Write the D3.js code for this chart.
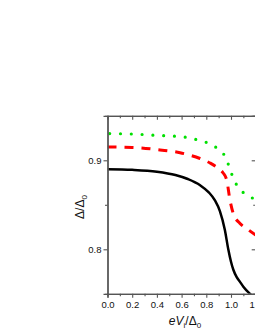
<!DOCTYPE html>
<html>
<head>
<meta charset="utf-8">
<script src="https://cdn.jsdelivr.net/npm/d3@7"></script>
<style>
  body { margin: 0; background: #fff; }
  text { font-family: "Liberation Sans", Arial, sans-serif; }
</style>
</head>
<body>
<svg id="chart" width="255" height="330"></svg>
<script>
// values: x = eV/Δ0, y = Δ/Δ0
var blackX = [0, 0.2, 0.4, 0.55, 0.65, 0.75, 0.82, 0.87, 0.91, 0.95, 0.978, 1.0, 1.019, 1.045, 1.07, 1.10, 1.154, 1.2]
var blackY = [0.890, 0.8893, 0.8872, 0.8835, 0.879, 0.872, 0.864, 0.855, 0.843, 0.822, 0.800, 0.786, 0.777, 0.769, 0.764, 0.758, 0.750, 0.745]

var redX = [0, 0.2, 0.425, 0.587, 0.749, 0.83, 0.897, 0.935, 0.965, 0.992, 1.019, 1.073, 1.13, 1.2]
var redY = [0.915, 0.9145, 0.9116, 0.9085, 0.902, 0.897, 0.891, 0.886, 0.878, 0.855, 0.840, 0.829, 0.823, 0.816]

var greenX = [0, 0.2, 0.4, 0.628, 0.709, 0.803, 0.889, 0.93, 0.96, 0.992, 1.024, 1.079, 1.168, 1.2]
var greenY = [0.930, 0.9295, 0.928, 0.926, 0.9236, 0.920, 0.9135, 0.909, 0.902, 0.890, 0.878, 0.8666, 0.858, 0.856]

var xMajor = [0, 0.2, 0.4, 0.6, 0.8, 1.0, 1.2]
var xMinor = [0.1, 0.3, 0.5, 0.7, 0.9, 1.1]
var yMajor = [0.8, 0.9]
var yMinor = [0.85]

var svg = d3.select('#chart')

var x = d3.scaleLinear().domain([0, 1.2]).range([107.5, 255.7])
var y = d3.scaleLinear().domain([0.75, 0.95]).range([293.8, 115.8])

var axisColor = '#555'

svg.append('clipPath').attr('id', 'clip')
  .append('rect')
    .attr('x', x(0)).attr('y', y(0.95))
    .attr('width', x(1.2) - x(0)).attr('height', y(0.75) - y(0.95))

function pts(xs, ys) {
  return xs.map(function (d, i) { return [d, ys[i]] })
}

var line = d3.line()
    .x(function (d) { return x(d[0]) })
    .y(function (d) { return y(d[1]) })
    .curve(d3.curveMonotoneX)

var curves = svg.append('g').attr('clip-path', 'url(#clip)')

curves.append('path')
    .attr('d', line(pts(greenX, greenY)))
    .attr('fill', 'none')
    .attr('stroke', '#00e000')
    .attr('stroke-width', 3.2)
    .attr('stroke-linecap', 'round')
    .attr('stroke-dasharray', '0,10.8')
    .attr('stroke-dashoffset', 8.6)

curves.append('path')
    .attr('d', line(pts(redX, redY)))
    .attr('fill', 'none')
    .attr('stroke', '#ff0000')
    .attr('stroke-width', 3)
    .attr('stroke-dasharray', '9,8')

curves.append('path')
    .attr('d', line(pts(blackX, blackY)))
    .attr('fill', 'none')
    .attr('stroke', '#000')
    .attr('stroke-width', 2.5)

// bottom axis: ticks outward
var gb = svg.append('g').attr('transform', 'translate(0,' + y(0.75) + ')')
  .call(d3.axisBottom(x).tickValues(xMajor).tickSize(4).tickFormat(d3.format('.1f')).tickPadding(3))
gb.selectAll('.tick').filter(function (d) { return d > 1.15 }).select('line').remove()
svg.append('g').attr('transform', 'translate(0,' + y(0.75) + ')')
  .call(d3.axisBottom(x).tickValues(xMinor).tickSize(2.5).tickFormat(''))

// left axis: ticks outward
svg.append('g').attr('transform', 'translate(' + x(0) + ',0)')
  .call(d3.axisLeft(y).tickValues(yMajor).tickSize(4).tickFormat(d3.format('.1f')).tickPadding(2))
svg.append('g').attr('transform', 'translate(' + x(0) + ',0)')
  .call(d3.axisLeft(y).tickValues(yMinor).tickSize(2.5).tickFormat(''))

// top axis: ticks inward
svg.append('g').attr('transform', 'translate(0,' + y(0.95) + ')')
  .call(d3.axisTop(x).tickValues(xMajor.filter(function (d) { return d > 0.01 && d < 1.15 })).tickSize(-4).tickFormat(''))
svg.append('g').attr('transform', 'translate(0,' + y(0.95) + ')')
  .call(d3.axisTop(x).tickValues(xMinor).tickSize(-2.5).tickFormat(''))

// right axis: ticks inward
svg.append('g').attr('transform', 'translate(' + x(1.2) + ',0)')
  .call(d3.axisRight(y).tickValues(yMajor).tickSize(-4).tickFormat(''))
svg.append('g').attr('transform', 'translate(' + x(1.2) + ',0)')
  .call(d3.axisRight(y).tickValues(yMinor).tickSize(-2.5).tickFormat(''))

svg.selectAll('.domain').attr('stroke', axisColor).attr('stroke-width', 1.3)
svg.selectAll('.tick line').attr('stroke', axisColor).attr('stroke-width', 1.1)
svg.selectAll('.tick text').attr('font-size', 9.5).attr('fill', '#111')
  .attr('font-family', '"Liberation Sans", Arial, sans-serif')

// axis titles
var yt = svg.append('text')
    .attr('transform', 'translate(84,207) rotate(-90)')
    .attr('text-anchor', 'middle')
    .attr('font-size', 12)
    .attr('fill', '#111')
yt.append('tspan').text('Δ/Δ')
yt.append('tspan').attr('font-size', 8).attr('dy', 3).text('0')

var xt = svg.append('text')
    .attr('x', 185).attr('y', 325)
    .attr('text-anchor', 'middle')
    .attr('font-size', 12)
    .attr('fill', '#111')
xt.append('tspan').attr('font-style', 'italic').text('eV')
xt.append('tspan').attr('font-size', 8).attr('dy', 3).text('i')
xt.append('tspan').attr('dy', -3).text('/Δ')
xt.append('tspan').attr('font-size', 8).attr('dy', 3).text('0')
</script>
</body>
</html>
